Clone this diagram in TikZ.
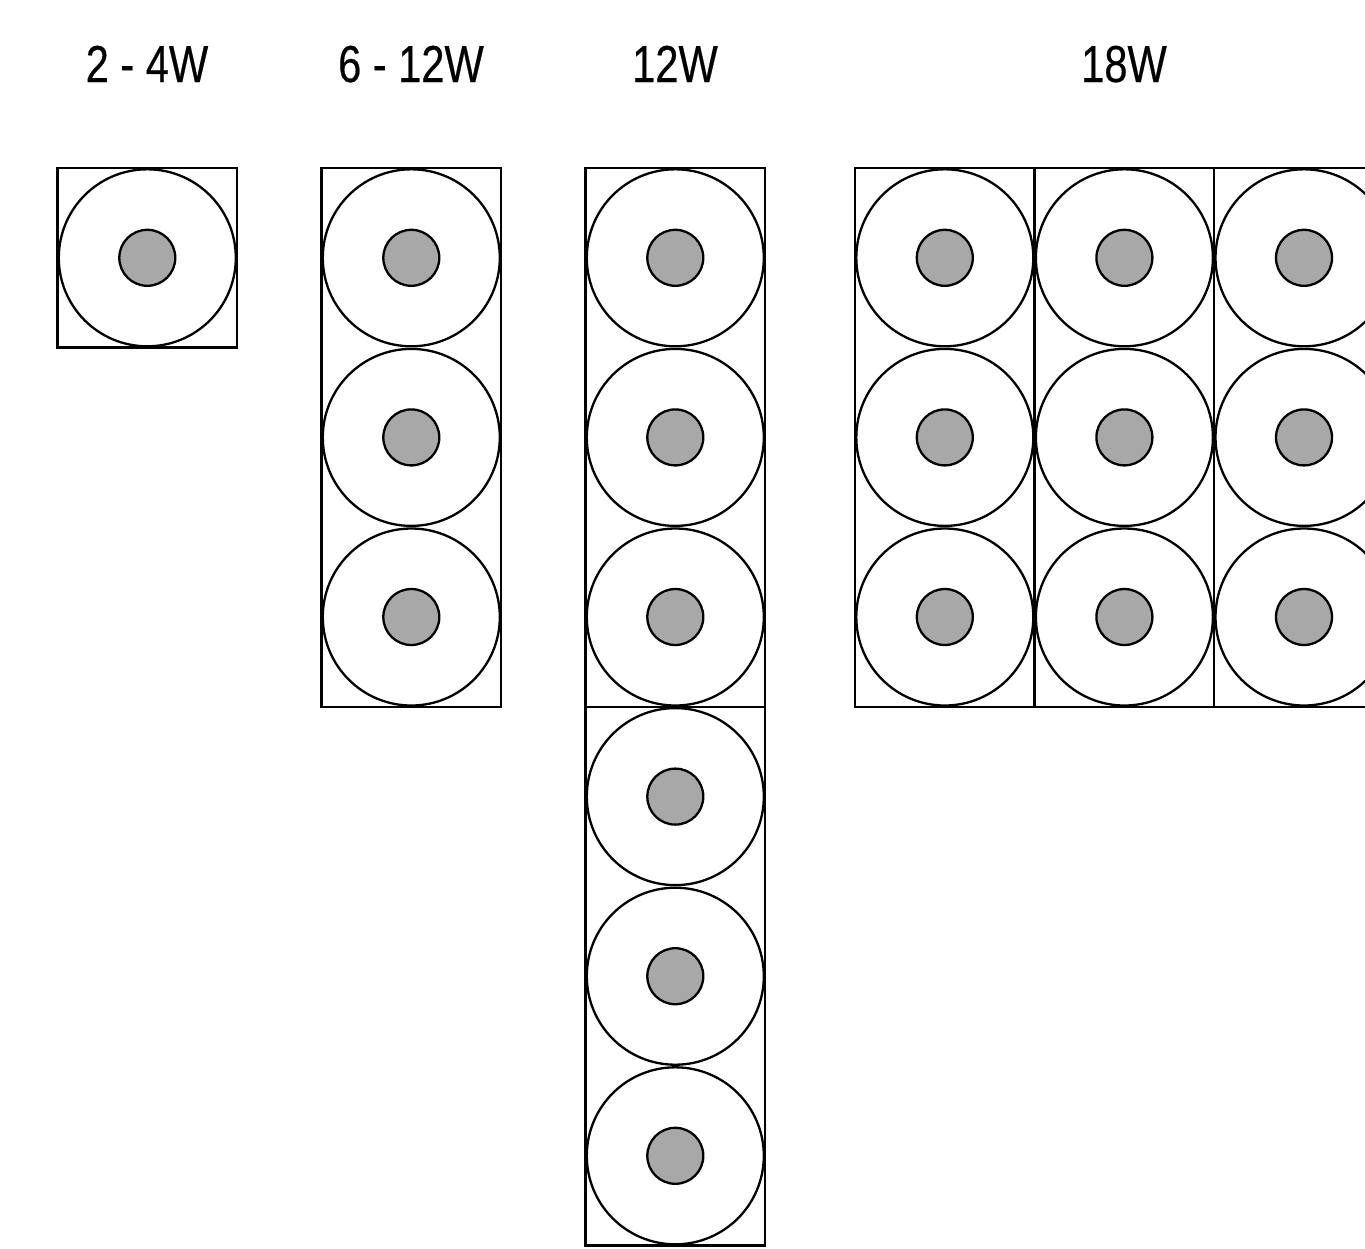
\documentclass[tikz,border=0pt]{standalone}
\usepackage{fontspec}
\setmainfont{Liberation Sans}[FakeStretch=0.8,FakeBold=0.4]
\definecolor{innergray}{RGB}{168,168,168}
\begin{document}
\begin{tikzpicture}[x=1pt,y=-1pt,
  cell/.style={draw=black,line width=2.3pt},
  ring/.style={circle,draw=black,line width=2.3pt,fill=white,minimum size=177pt,inner sep=0pt},
  core/.style={circle,draw=black,line width=2.3pt,fill=innergray,minimum size=56pt,inner sep=0pt},
  title/.style={anchor=base,font=\fontsize{52}{60}\selectfont,inner sep=0pt}]
\useasboundingbox (0,0) rectangle (1365,1248);
\clip (0,0) rectangle (1365,1248);
\def\s{179.6}
% titles
\node[title] (t1) at (147,82) {2 - 4W};
\node[title] (t2) at (411,82) {6 - 12W};
\node[title] (t3) at (675,82) {12W};
\node[title] (t4) at (1124,82) {18W};
% box 1
\draw[cell] (57.5,168) rectangle ++(\s,\s);
\node[ring] (a1) at (147.3,257.8) {};
\node[core] (a1c) at (a1) {};
% box 2
\draw[cell] (321.5,168) rectangle ++(\s,3*\s);
\foreach \k in {0,1,2}{
  \node[ring] (b\k) at (411.3,257.8+\k*\s) {};
  \node[core] (b\k c) at (b\k) {};
}
% box 3
\draw[cell] (585.5,168) rectangle ++(\s,3*\s);
\draw[cell] (585.5,168+3*\s) rectangle ++(\s,3*\s);
\foreach \k in {0,...,5}{
  \node[ring] (d\k) at (675.3,257.8+\k*\s) {};
  \node[core] (d\k c) at (d\k) {};
}
% box 4
\foreach \j in {0,1,2}{
  \draw[cell] (855+\j*\s,168) rectangle ++(\s,3*\s);
}
\foreach \j in {0,1,2}{
  \foreach \k in {0,1,2}{
    \node[ring] (e\j\k) at (944.8+\j*\s,257.8+\k*\s) {};
    \node[core] (e\j\k c) at (e\j\k) {};
  }
}
\end{tikzpicture}
\end{document}
